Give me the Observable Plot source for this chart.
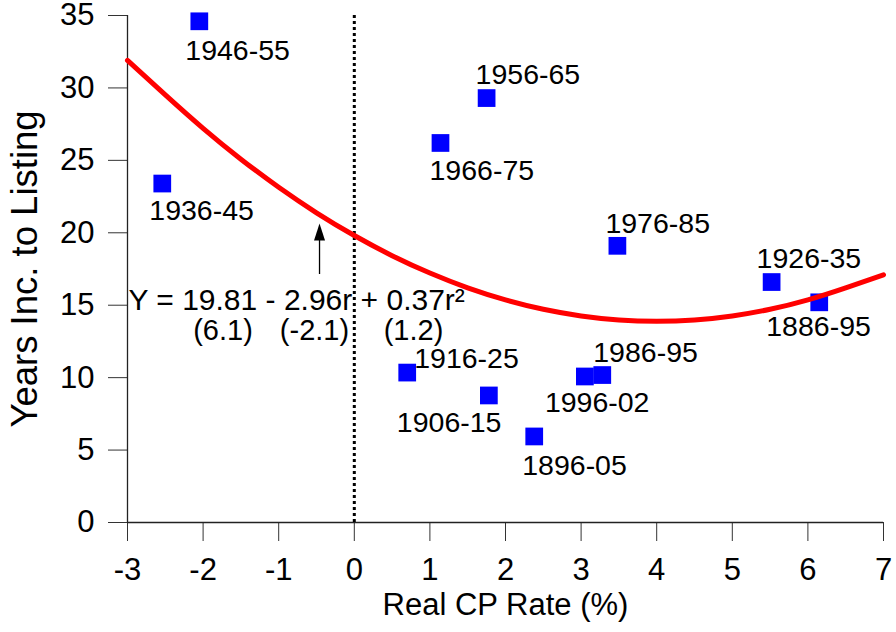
<!DOCTYPE html>
<html>
<head>
<meta charset="utf-8">
<script src="https://cdn.jsdelivr.net/npm/d3@7"></script>
<script src="https://cdn.jsdelivr.net/npm/@observablehq/plot@0.6"></script>
<style>
  body { margin: 0; background: #ffffff; }
  #chart svg { display: block; }
</style>
</head>
<body>
<div id="chart"></div>
<script>
// ---- Data ----
const periods = ["1946-55", "1936-45", "1956-65", "1966-75", "1976-85", "1926-35",
                 "1886-95", "1916-25", "1906-15", "1896-05", "1996-02", "1986-95"];
const cpRate = [-2.05, -2.54, 1.75, 1.14, 3.48, 5.52, 6.15, 0.70, 1.78, 2.38, 3.05, 3.28];
const yearsToListing = [34.6, 23.4, 29.3, 26.2, 19.1, 16.6, 15.2, 10.35, 8.77, 5.94, 10.08, 10.18];

// fitted curve
const fitRate  = [-3, -2.5, -2, -1.5, -1, -0.5, 0, 0.5, 1, 1.5, 2, 2.5, 3, 3.5, 4, 4.5, 5, 5.5, 6, 6.5, 7];
const fitYears = [31.9, 29.52, 27.21, 25.08, 23.14, 21.38, 19.81, 18.42, 17.22, 16.20, 15.37,
                  14.72, 14.26, 13.98, 13.89, 13.98, 14.26, 14.72, 15.37, 16.20, 17.1];

const xTicks = [-3, -2, -1, 0, 1, 2, 3, 4, 5, 6, 7];
const yTicks = [0, 5, 10, 15, 20, 25, 30, 35];
const xTickLabels = ["-3", "-2", "-1", "0", "1", "2", "3", "4", "5", "6", "7"];
const yTickLabels = ["0", "5", "10", "15", "20", "25", "30", "35"];

const formulaLine = "Y = 19.81 - 2.96r + 0.37r\u00B2";
const tStats = ["(6.1)", "(-2.1)", "(1.2)"];

const xTitle = "Real CP Rate (%)";
const yTitle = "Years Inc. to Listing";

// ---- Layout (pixel offsets of labels from their squares) ----
const labelOffset = {
  "1946-55": [-14, 30], "1936-45": [-13, 27], "1956-65": [-11, -23], "1966-75": [-11, 28],
  "1976-85": [-12, -22], "1926-35": [-15, -23], "1886-95": [-53, 25], "1916-25": [7, -14],
  "1906-15": [-92, 27], "1896-05": [-12, 29], "1996-02": [-40, 26], "1986-95": [-9, -22]
};
// annotation anchors in data units
const formulaAt = {x: -3, y: 15.35};
const tStatX = [-1.737, -0.527, 0.783];
const tStatY = 13.25;
const arrowX = -0.46, arrowFrom = 17.12, arrowTip = 20.64;

const arrowHead = {
  draw(ctx) {
    ctx.moveTo(0, 0);
    ctx.lineTo(-5.5, 17);
    ctx.lineTo(5.5, 17);
    ctx.closePath();
  }
};

const idx = periods.map((_, i) => i);
const fitIdx = fitRate.map((_, i) => i);

const labelMarks = idx.map(i => Plot.text([i], {
  x: j => cpRate[j], y: j => yearsToListing[j], text: j => periods[j],
  textAnchor: "start", lineAnchor: "middle", fontSize: 28.5, fill: "#000",
  dx: labelOffset[periods[i]][0], dy: labelOffset[periods[i]][1]
}));

const chart = Plot.plot({
  width: 896,
  height: 632,
  marginLeft: 127,
  marginRight: 13,
  marginTop: 15,
  marginBottom: 110,
  x: {domain: [-3, 7]},
  y: {domain: [0, 35]},
  style: {fontFamily: "'Liberation Sans', Arial, Helvetica, sans-serif", background: "#ffffff", color: "#000000"},
  marks: [
    Plot.axisX({ticks: xTicks, tickFormat: (d) => xTickLabels[xTicks.indexOf(d)], tickSize: 19, tickPadding: 16, fontSize: 31, label: null, stroke: "#333"}),
    Plot.axisY({ticks: yTicks, tickFormat: (d) => yTickLabels[yTicks.indexOf(d)], tickSize: 19, tickPadding: 14, fontSize: 31, label: null, stroke: "#333"}),
    Plot.ruleY([0], {stroke: "#222", strokeWidth: 1.3}),
    Plot.ruleX([-3], {stroke: "#222", strokeWidth: 1.3}),
    Plot.ruleX([0], {y1: 0, y2: 35, stroke: "#000", strokeWidth: 3, strokeDasharray: "3,3"}),
    Plot.dot(idx, {x: i => cpRate[i], y: i => yearsToListing[i], symbol: "square", r: 10, fill: "#0000ff", stroke: "none"}),
    Plot.line(fitIdx, {x: i => fitRate[i], y: i => fitYears[i], stroke: "#ff0000", strokeWidth: 5, curve: "natural"}),
    ...labelMarks,
    Plot.ruleX([arrowX], {y1: arrowFrom, y2: arrowTip - 0.8, stroke: "#000", strokeWidth: 1.3}),
    Plot.dot([arrowX], {x: d => d, y: () => arrowTip, symbol: arrowHead, fill: "#000", stroke: "none"}),
    Plot.text([formulaLine], {x: formulaAt.x, y: formulaAt.y, text: d => d, textAnchor: "start", lineAnchor: "middle", fontSize: 30, dx: 1, fill: "#000"}),
    Plot.text(tStats, {x: (d, i) => tStatX[i], y: tStatY, text: d => d, textAnchor: "middle", lineAnchor: "middle", fontSize: 29, fill: "#000"}),
    Plot.text([yTitle], {frameAnchor: "left", text: d => d, rotate: -90, textAnchor: "middle", lineAnchor: "middle", dx: -102, fontSize: 36.5, fill: "#000"}),
    Plot.text([xTitle], {frameAnchor: "bottom", text: d => d, textAnchor: "middle", lineAnchor: "middle", dy: 83, fontSize: 31, fill: "#000"})
  ]
});

document.getElementById("chart").appendChild(chart);
</script>
</body>
</html>
